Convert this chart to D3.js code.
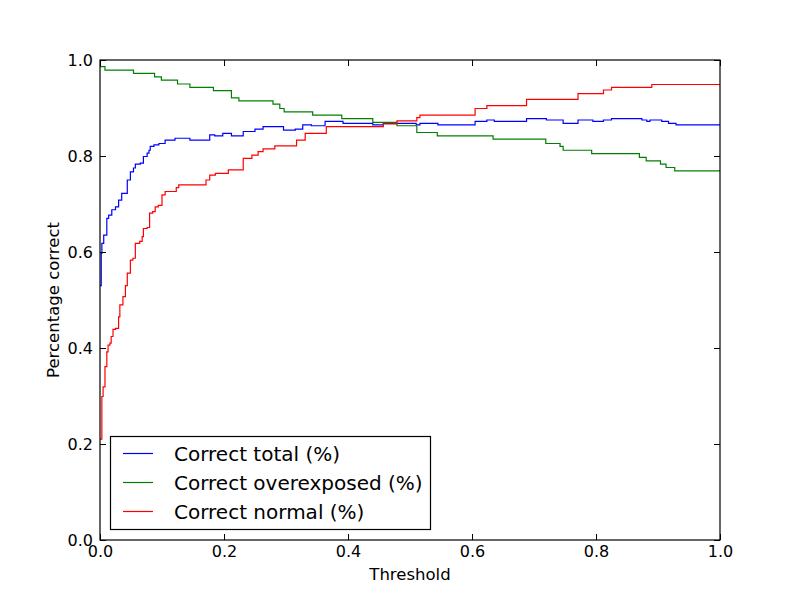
<!DOCTYPE html>
<html lang="en">
<meta charset="utf-8" />
<head>
<style>
  body { margin: 0; background: #fff; }
  svg text { font-family: "DejaVu Sans", sans-serif; fill: #000; }
</style>
</head>
<body>
<svg id="chart" width="800" height="600"></svg>

<script src="https://cdn.jsdelivr.net/npm/d3@7/dist/d3.min.js"></script>
<script>
  // data (threshold -> fraction correct), step changes
  var totalX = [0, 0.002, 0.003, 0.006, 0.011, 0.014, 0.019, 0.025, 0.030, 0.035,
                0.044, 0.049, 0.054, 0.057, 0.065, 0.070, 0.076, 0.079, 0.081, 0.087,
                0.095, 0.105, 0.121, 0.145, 0.177, 0.185, 0.198, 0.212, 0.231, 0.250,
                0.263, 0.296, 0.315, 0.327, 0.341, 0.363, 0.392, 0.440, 0.457, 0.510,
                0.516, 0.545, 0.605, 0.624, 0.636, 0.688, 0.720, 0.747, 0.771, 0.795,
                0.812, 0.825, 0.874, 0.882, 0.887, 0.906, 0.917, 0.929, 1.0];
  var totalY = [0.53, 0.597, 0.618, 0.635, 0.670, 0.677, 0.688, 0.694, 0.708, 0.722,
                0.750, 0.767, 0.775, 0.783, 0.785, 0.799, 0.806, 0.812, 0.820, 0.823,
                0.826, 0.833, 0.837, 0.833, 0.844, 0.842, 0.847, 0.842, 0.851, 0.856,
                0.861, 0.854, 0.856, 0.865, 0.863, 0.872, 0.868, 0.865, 0.868, 0.865,
                0.868, 0.865, 0.872, 0.875, 0.872, 0.878, 0.875, 0.868, 0.875, 0.872,
                0.875, 0.878, 0.875, 0.872, 0.875, 0.872, 0.868, 0.865, 0.865];

  var overX = [0, 0.008, 0.054, 0.088, 0.099, 0.125, 0.145, 0.183, 0.212, 0.224,
               0.279, 0.290, 0.297, 0.343, 0.390, 0.440, 0.479, 0.511, 0.544, 0.634,
               0.719, 0.742, 0.747, 0.793, 0.870, 0.881, 0.904, 0.913, 0.927, 1.0];
  var overY = [0.986, 0.979, 0.972, 0.965, 0.958, 0.950, 0.943, 0.936, 0.921, 0.915,
               0.908, 0.899, 0.892, 0.885, 0.878, 0.870, 0.863, 0.849, 0.842, 0.835,
               0.826, 0.820, 0.812, 0.805, 0.797, 0.790, 0.783, 0.776, 0.769, 0.769];

  var normalX = [0, 0.003, 0.005, 0.008, 0.011, 0.013, 0.016, 0.018, 0.021, 0.025,
                 0.030, 0.032, 0.037, 0.041, 0.044, 0.049, 0.053, 0.057, 0.064, 0.068,
                 0.070, 0.076, 0.080, 0.085, 0.089, 0.094, 0.100, 0.105, 0.123, 0.127,
                 0.171, 0.177, 0.186, 0.207, 0.231, 0.245, 0.255, 0.263, 0.282, 0.317,
                 0.331, 0.365, 0.457, 0.479, 0.511, 0.516, 0.605, 0.624, 0.688, 0.771,
                 0.812, 0.825, 0.890, 1.0];
  var normalY = [0.21, 0.299, 0.319, 0.361, 0.392, 0.406, 0.410, 0.424, 0.439, 0.441,
                 0.465, 0.490, 0.507, 0.530, 0.556, 0.583, 0.587, 0.618, 0.622, 0.632,
                 0.649, 0.651, 0.681, 0.684, 0.694, 0.697, 0.719, 0.726, 0.734, 0.740,
                 0.750, 0.760, 0.764, 0.771, 0.795, 0.802, 0.809, 0.815, 0.821, 0.833,
                 0.847, 0.861, 0.867, 0.873, 0.880, 0.885, 0.899, 0.905, 0.918, 0.930,
                 0.9375, 0.943, 0.949, 0.949];

  var seriesNames = ["Correct total (%)", "Correct overexposed (%)", "Correct normal (%)"];
  var seriesColors = ["#0000ff", "#008000", "#ff0000"];
  var xTicks = [0, 0.2, 0.4, 0.6, 0.8, 1.0];
  var yTicks = [0, 0.2, 0.4, 0.6, 0.8, 1.0];

  var series = [[totalX, totalY], [overX, overY], [normalX, normalY]].map(function(s, i) {
    return { name: seriesNames[i], color: seriesColors[i],
             pts: s[0].map(function(x, j) { return [x, s[1][j]]; }) };
  });

  var svg = d3.select("#chart");
  var x = d3.scaleLinear().domain([0, 1]).range([100, 720]);
  var y = d3.scaleLinear().domain([0, 1]).range([540, 60]);
  var fmt = d3.format(".1f");

  svg.append("defs").append("clipPath").attr("id", "clip")
    .append("rect").attr("x", 100).attr("y", 60).attr("width", 620).attr("height", 480);

  // lines
  var line = d3.line()
    .x(function(d) { return x(d[0]); })
    .y(function(d) { return y(d[1]); })
    .curve(d3.curveStepAfter);

  svg.append("g").attr("clip-path", "url(#clip)")
    .selectAll("path").data(series).enter().append("path")
    .attr("d", function(d) { return line(d.pts); })
    .attr("fill", "none")
    .attr("stroke", function(d) { return d.color; })
    .attr("stroke-width", 1.2);

  // axes, ticks pointing inward on all four sides
  function styleAxis(g) {
    g.select(".domain").remove();
    g.selectAll("line").attr("stroke", "#000");
    g.selectAll("text").attr("font-size", "16px").attr("font-family", "DejaVu Sans");
  }
  svg.append("g").attr("transform", "translate(0,540)")
    .call(d3.axisBottom(x).tickValues(xTicks).tickFormat(fmt).tickSize(-6).tickPadding(6))
    .call(styleAxis);
  svg.append("g").attr("transform", "translate(0,60)")
    .call(d3.axisTop(x).tickValues(xTicks).tickFormat("").tickSize(-6))
    .call(styleAxis);
  svg.append("g").attr("transform", "translate(100,0)")
    .call(d3.axisLeft(y).tickValues(yTicks).tickFormat(fmt).tickSize(-6).tickPadding(7))
    .call(styleAxis);
  svg.append("g").attr("transform", "translate(720,0)")
    .call(d3.axisRight(y).tickValues(yTicks).tickFormat("").tickSize(-6))
    .call(styleAxis);

  // frame
  svg.append("rect").attr("x", 100).attr("y", 60).attr("width", 620).attr("height", 480)
    .attr("fill", "none").attr("stroke", "#000").attr("stroke-width", 1.2);

  // axis labels
  svg.append("text").attr("x", 410).attr("y", 580)
    .attr("text-anchor", "middle").attr("font-size", "16.5px").text("Threshold");
  svg.append("text").attr("transform", "translate(59,300) rotate(-90)")
    .attr("text-anchor", "middle").attr("font-size", "16.5px").text("Percentage correct");

  // legend
  var legend = svg.append("g");
  legend.append("rect").attr("x", 110.5).attr("y", 436.5).attr("width", 320).attr("height", 93)
    .attr("fill", "#fff").attr("stroke", "#000").attr("stroke-width", 1.2);
  var item = legend.selectAll("g.item").data(series).enter().append("g")
    .attr("class", "item")
    .attr("transform", function(d, i) { return "translate(0," + (453.5 + i * 29) + ")"; });
  item.append("line").attr("x1", 123).attr("x2", 153)
    .attr("stroke", function(d) { return d.color; }).attr("stroke-width", 1.2);
  item.append("text").attr("x", 174).attr("dy", "0.36em")
    .attr("font-size", "20px").text(function(d) { return d.name; });
</script>
</body>
</html>
